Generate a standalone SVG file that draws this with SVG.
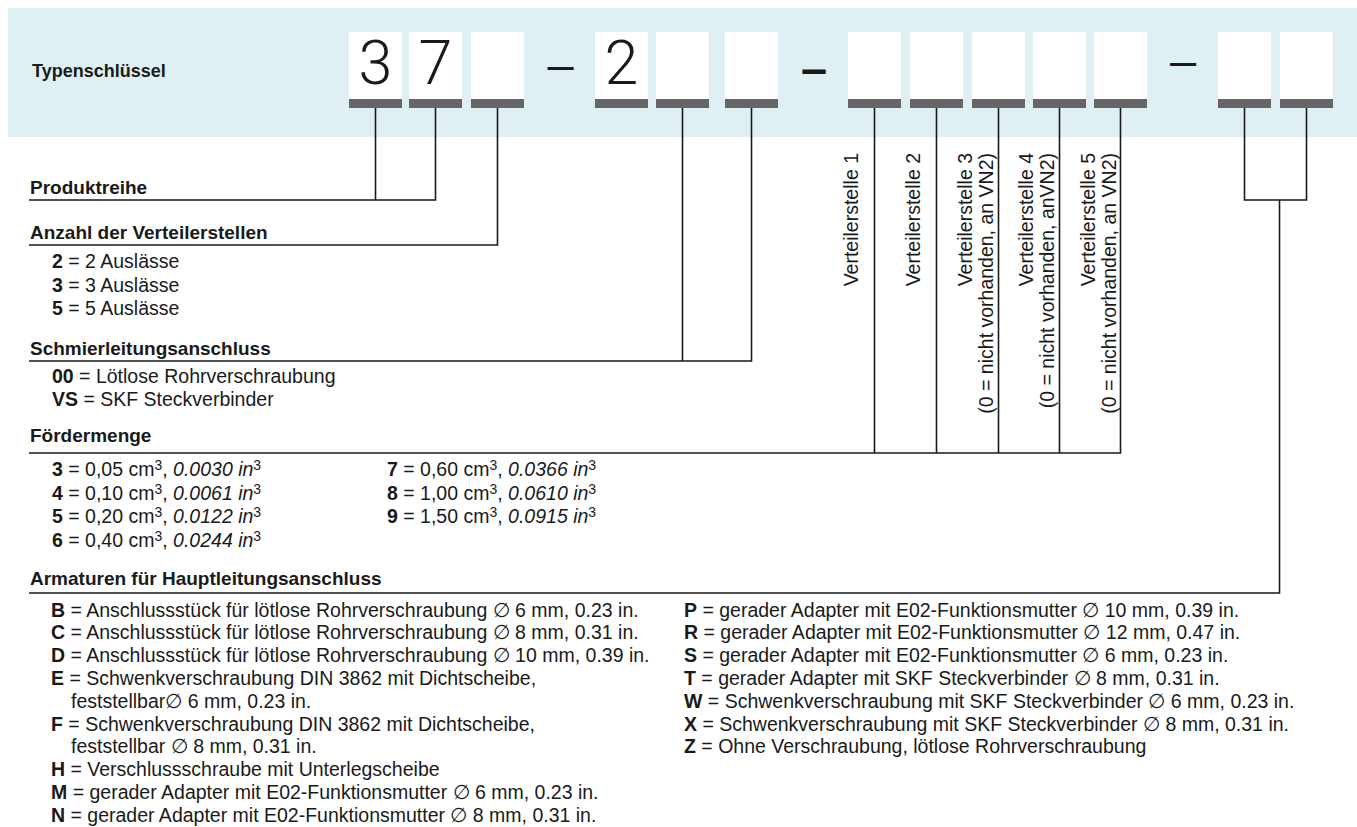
<svg xmlns="http://www.w3.org/2000/svg" width="1357" height="827" viewBox="0 0 1357 827">
<style>
.t{font-family:"Liberation Sans",Arial,sans-serif;font-size:19.5px;fill:#1a1a1a}
.h{font-family:"Liberation Sans",Arial,sans-serif;font-size:19px;font-weight:bold;fill:#1a1a1a}
.b{font-weight:bold}
.i{font-style:italic}
.sup{font-size:14px}
.big{font-family:Roboto,"Liberation Sans",sans-serif;font-weight:300;font-size:61px;fill:#1a1a1a;text-anchor:middle}
.dash{font-family:"Liberation Sans",Arial,sans-serif;font-size:47px;fill:#1a1a1a;text-anchor:middle}
.box{fill:#ffffff}
.bar{fill:#666666}
.ln{fill:none;stroke:#1a1a1a;stroke-width:1.6}
.vl{font-family:"Liberation Sans",Arial,sans-serif;font-size:19.5px;fill:#1a1a1a;text-anchor:end}
</style>
<defs>
<g id="cell"><rect class="box" x="-26.5" y="32" width="53" height="67"/><rect class="bar" x="-26.5" y="99" width="53" height="9"/></g>
</defs>
<rect width="1357" height="827" fill="#ffffff"/>
<g id="band">
<rect x="8" y="8" width="1349" height="129" fill="#dff0f4"/>
<text class="h" x="32" y="77" style="font-size:18px">Typenschlüssel</text>
</g>
<g id="code">
<g id="c1"><use href="#cell" x="375.5"/><text class="big" x="375.5" y="83.5">3</text></g>
<g id="c2"><use href="#cell" x="435.5"/><text class="big" x="435.5" y="83.5">7</text></g>
<g id="c3"><use href="#cell" x="497.5"/></g>
<text class="dash" x="560.5" y="80">–</text>
<g id="c4"><use href="#cell" x="621.5"/><text class="big" x="621.5" y="83.5">2</text></g>
<g id="c5"><use href="#cell" x="682.5"/></g>
<g id="c6"><use href="#cell" x="751.5"/></g>
<text class="dash" x="814" y="84" style="font-weight:bold">–</text>
<g id="c7"><use href="#cell" x="874.5"/></g>
<g id="c8"><use href="#cell" x="936.5"/></g>
<g id="c9"><use href="#cell" x="998.5"/></g>
<g id="c10"><use href="#cell" x="1059.5"/></g>
<g id="c11"><use href="#cell" x="1120.5"/></g>
<text class="dash" x="1183" y="76">–</text>
<g id="c12"><use href="#cell" x="1244.5"/></g>
<g id="c13"><use href="#cell" x="1306.5"/></g>
</g>
<g id="connectors">
<path class="ln" d="M29,200H435.5V108M375.5,108V200"/>
<path class="ln" d="M29,245H497.5V108"/>
<path class="ln" d="M29,361H751.5V108M682.5,108V361"/>
<path class="ln" d="M29,453H1120.5V108M874.5,108V453M936.5,108V453M998.5,108V453M1059.5,108V453"/>
<path class="ln" d="M29,593H1279.5V200M1244.5,108V200H1306.5V108"/>
</g>
<g id="produktreihe">
<text class="h" x="30" y="194">Produktreihe</text>
</g>
<g id="anzahl">
<text class="h" x="30" y="239">Anzahl der Verteilerstellen</text>
<text class="t" x="52" y="268"><tspan class="b">2</tspan> = 2 Auslässe</text>
<text class="t" x="52" y="291.5"><tspan class="b">3</tspan> = 3 Auslässe</text>
<text class="t" x="52" y="315"><tspan class="b">5</tspan> = 5 Auslässe</text>
</g>
<g id="schmier">
<text class="h" x="30" y="355">Schmierleitungsanschluss</text>
<text class="t" x="52" y="383"><tspan class="b">00</tspan> = Lötlose Rohrverschraubung</text>
<text class="t" x="52" y="406"><tspan class="b">VS</tspan> = SKF Steckverbinder</text>
</g>
<g id="verteilerstellen">
<text class="vl" transform="translate(858,153) rotate(-90)">Verteilerstelle  1</text>
<text class="vl" transform="translate(920,153) rotate(-90)">Verteilerstelle 2</text>
<text class="vl" transform="translate(972,153) rotate(-90)">Verteilerstelle 3</text>
<text class="vl" transform="translate(993,153) rotate(-90)">(0 = nicht vorhanden, an VN2)</text>
<text class="vl" transform="translate(1033,153) rotate(-90)">Verteilerstelle 4</text>
<text class="vl" transform="translate(1054,153) rotate(-90)">(0 = nicht vorhanden, anVN2)</text>
<text class="vl" transform="translate(1095,153) rotate(-90)">Verteilerstelle 5</text>
<text class="vl" transform="translate(1116,153) rotate(-90)">(0 = nicht vorhanden, an VN2)</text>
</g>
<g id="foerdermenge">
<text class="h" x="30" y="442">Fördermenge</text>
<text class="t" x="52" y="476"><tspan class="b">3</tspan> = 0,05 cm<tspan class="sup" dy="-6">3</tspan><tspan dy="6">, </tspan><tspan class="i">0.0030 in</tspan><tspan class="sup" dy="-6">3</tspan></text>
<text class="t" x="52" y="499.5"><tspan class="b">4</tspan> = 0,10 cm<tspan class="sup" dy="-6">3</tspan><tspan dy="6">, </tspan><tspan class="i">0.0061 in</tspan><tspan class="sup" dy="-6">3</tspan></text>
<text class="t" x="52" y="523"><tspan class="b">5</tspan> = 0,20 cm<tspan class="sup" dy="-6">3</tspan><tspan dy="6">, </tspan><tspan class="i">0.0122 in</tspan><tspan class="sup" dy="-6">3</tspan></text>
<text class="t" x="52" y="546.5"><tspan class="b">6</tspan> = 0,40 cm<tspan class="sup" dy="-6">3</tspan><tspan dy="6">, </tspan><tspan class="i">0.0244 in</tspan><tspan class="sup" dy="-6">3</tspan></text>
<text class="t" x="387" y="476"><tspan class="b">7</tspan> = 0,60 cm<tspan class="sup" dy="-6">3</tspan><tspan dy="6">, </tspan><tspan class="i">0.0366 in</tspan><tspan class="sup" dy="-6">3</tspan></text>
<text class="t" x="387" y="499.5"><tspan class="b">8</tspan> = 1,00 cm<tspan class="sup" dy="-6">3</tspan><tspan dy="6">, </tspan><tspan class="i">0.0610 in</tspan><tspan class="sup" dy="-6">3</tspan></text>
<text class="t" x="387" y="523"><tspan class="b">9</tspan> = 1,50 cm<tspan class="sup" dy="-6">3</tspan><tspan dy="6">, </tspan><tspan class="i">0.0915 in</tspan><tspan class="sup" dy="-6">3</tspan></text>
</g>
<g id="armaturen">
<text class="h" x="30" y="585">Armaturen für Hauptleitungsanschluss</text>
<text class="t" x="51" y="616.5"><tspan class="b">B</tspan> = Anschlussstück für lötlose Rohrverschraubung ∅ 6 mm, 0.23 in.</text>
<text class="t" x="51" y="639.3"><tspan class="b">C</tspan> = Anschlussstück für lötlose Rohrverschraubung ∅ 8 mm, 0.31 in.</text>
<text class="t" x="51" y="662.1"><tspan class="b">D</tspan> = Anschlussstück für lötlose Rohrverschraubung ∅ 10 mm, 0.39 in.</text>
<text class="t" x="51" y="684.9"><tspan class="b">E</tspan> = Schwenkverschraubung DIN 3862 mit Dichtscheibe,</text>
<text class="t" x="71" y="707.7">feststellbar∅ 6 mm, 0.23 in.</text>
<text class="t" x="51" y="730.5"><tspan class="b">F</tspan> = Schwenkverschraubung DIN 3862 mit Dichtscheibe,</text>
<text class="t" x="71" y="753.3">feststellbar ∅ 8 mm, 0.31 in.</text>
<text class="t" x="51" y="776.1"><tspan class="b">H</tspan> = Verschlussschraube mit Unterlegscheibe</text>
<text class="t" x="51" y="798.9"><tspan class="b">M</tspan> = gerader Adapter mit E02-Funktionsmutter ∅ 6 mm, 0.23 in.</text>
<text class="t" x="51" y="821.7"><tspan class="b">N</tspan> = gerader Adapter mit E02-Funktionsmutter ∅ 8 mm, 0.31 in.</text>
<text class="t" x="684" y="616.5"><tspan class="b">P</tspan> = gerader Adapter mit E02-Funktionsmutter ∅ 10 mm, 0.39 in.</text>
<text class="t" x="684" y="639.3"><tspan class="b">R</tspan> = gerader Adapter mit E02-Funktionsmutter ∅ 12 mm, 0.47 in.</text>
<text class="t" x="684" y="662.1"><tspan class="b">S</tspan> = gerader Adapter mit E02-Funktionsmutter ∅ 6 mm, 0.23 in.</text>
<text class="t" x="684" y="684.9"><tspan class="b">T</tspan> = gerader Adapter mit SKF Steckverbinder ∅ 8 mm, 0.31 in.</text>
<text class="t" x="684" y="707.7"><tspan class="b">W</tspan> = Schwenkverschraubung mit SKF Steckverbinder ∅ 6 mm, 0.23 in.</text>
<text class="t" x="684" y="730.5"><tspan class="b">X</tspan> = Schwenkverschraubung mit SKF Steckverbinder ∅ 8 mm, 0.31 in.</text>
<text class="t" x="684" y="753.3"><tspan class="b">Z</tspan> = Ohne Verschraubung, lötlose Rohrverschraubung</text>
</g>
</svg>
